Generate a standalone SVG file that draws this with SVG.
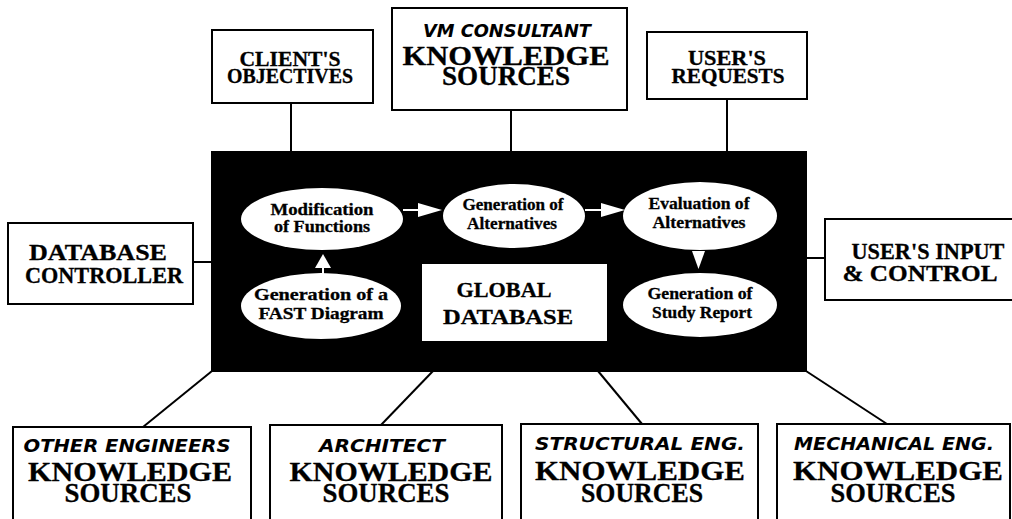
<svg xmlns="http://www.w3.org/2000/svg" width="1012" height="519" viewBox="0 0 1012 519">
  <style>
    .box { fill: #fff; stroke: #000; stroke-width: 2; }
    .link { stroke: #000; stroke-width: 2; fill: none; }
    .flow { stroke: #fff; stroke-width: 2; fill: none; }
    .head { fill: #fff; }
    .bubble { fill: #fff; stroke: none; }
    .t { font-family: "Liberation Serif", "Times New Roman", serif; font-weight: bold; fill: #000; stroke: #000; stroke-width: 0.3; text-anchor: middle; }
    .h { font-family: "DejaVu Sans", "Liberation Sans", sans-serif; font-weight: bold; font-style: italic; fill: #000; text-anchor: middle; }
    .s20 { font-size: 20px; }
    .s22 { font-size: 22px; }
    .s23 { font-size: 23px; }
    .s28 { font-size: 28px; }
    .s16 { font-size: 16px; }
    .h17 { font-size: 17px; }
  </style>
  <rect width="1012" height="519" fill="#fff"/>

  <!-- connectors from the knowledge sources to the blackboard -->
  <g id="connectors">
    <line class="link" x1="291" y1="103" x2="291" y2="152"/>
    <line class="link" x1="511" y1="110" x2="511" y2="152"/>
    <line class="link" x1="727" y1="99" x2="727" y2="152"/>
    <line class="link" x1="193" y1="262" x2="212" y2="262"/>
    <line class="link" x1="806" y1="258" x2="825" y2="258"/>
    <line class="link" x1="212" y1="371" x2="143" y2="427"/>
    <line class="link" x1="433" y1="371" x2="381" y2="425"/>
    <line class="link" x1="598" y1="371" x2="642" y2="424"/>
    <line class="link" x1="806" y1="371" x2="887" y2="424"/>
  </g>

  <!-- blackboard -->
  <g id="blackboard">
    <rect x="211" y="151" width="596" height="221" fill="#000"/>
  </g>

  <!-- process flow arrows inside the blackboard -->
  <g id="flow-arrows">
    <line class="flow" x1="403" y1="210" x2="419" y2="210"/>
    <polygon class="head" points="418,203 442,210 418,217"/>
    <line class="flow" x1="585" y1="210" x2="602" y2="210"/>
    <polygon class="head" points="601,203 625,210 601,217"/>
    <polygon class="head" points="315,268 323,254 331,268"/>
    <line class="flow" x1="323" y1="267" x2="323" y2="274"/>
    <polygon class="head" points="692,251 705,251 698.5,269"/>
  </g>

  <g id="modification">
    <ellipse class="bubble" cx="322" cy="219" rx="81" ry="31"/>
    <text class="t s16" x="322" y="215" textLength="103" lengthAdjust="spacingAndGlyphs">Modification</text>
    <text class="t s16" x="322" y="232" textLength="96" lengthAdjust="spacingAndGlyphs">of Functions</text>
  </g>

  <g id="fast-diagram">
    <ellipse class="bubble" cx="321" cy="306" rx="80" ry="33"/>
    <text class="t s16" x="321" y="300" textLength="134" lengthAdjust="spacingAndGlyphs">Generation of a</text>
    <text class="t s16" x="321" y="319" textLength="125" lengthAdjust="spacingAndGlyphs">FAST Diagram</text>
  </g>

  <g id="generation-alternatives">
    <ellipse class="bubble" cx="514" cy="216" rx="71" ry="32"/>
    <text class="t s16" x="513" y="210" textLength="101" lengthAdjust="spacingAndGlyphs">Generation of</text>
    <text class="t s16" x="512" y="229" textLength="90" lengthAdjust="spacingAndGlyphs">Alternatives</text>
  </g>

  <g id="evaluation-alternatives">
    <ellipse class="bubble" cx="700" cy="216" rx="77" ry="34"/>
    <text class="t s16" x="699" y="209" textLength="101" lengthAdjust="spacingAndGlyphs">Evaluation of</text>
    <text class="t s16" x="699" y="228" textLength="93" lengthAdjust="spacingAndGlyphs">Alternatives</text>
  </g>

  <g id="study-report">
    <ellipse class="bubble" cx="700" cy="305" rx="77" ry="32"/>
    <text class="t s16" x="700" y="299" textLength="105" lengthAdjust="spacingAndGlyphs">Generation of</text>
    <text class="t s16" x="702" y="318" textLength="100" lengthAdjust="spacingAndGlyphs">Study Report</text>
  </g>

  <g id="global-database">
    <rect x="422" y="264" width="185" height="77" fill="#fff"/>
    <text class="t s22" x="504" y="297" textLength="95" lengthAdjust="spacingAndGlyphs">GLOBAL</text>
    <text class="t s22" x="508" y="324" textLength="130" lengthAdjust="spacingAndGlyphs">DATABASE</text>
  </g>

  <g id="clients-objectives">
    <rect class="box" x="212" y="30" width="161" height="73"/>
    <text class="t s20" x="290" y="66" textLength="101" lengthAdjust="spacingAndGlyphs">CLIENT'S</text>
    <text class="t s20" x="290" y="83" textLength="126" lengthAdjust="spacingAndGlyphs">OBJECTIVES</text>
  </g>

  <g id="vm-consultant">
    <rect class="box" x="392" y="8" width="235" height="102"/>
    <text class="h h17" x="507" y="37" textLength="168" lengthAdjust="spacingAndGlyphs">VM CONSULTANT</text>
    <text class="t s28" x="506" y="65" textLength="207" lengthAdjust="spacingAndGlyphs">KNOWLEDGE</text>
    <text class="t s28" x="506" y="85" textLength="128" lengthAdjust="spacingAndGlyphs">SOURCES</text>
  </g>

  <g id="users-requests">
    <rect class="box" x="647" y="32" width="160" height="67"/>
    <text class="t s20" x="727" y="65" textLength="78" lengthAdjust="spacingAndGlyphs">USER'S</text>
    <text class="t s20" x="728" y="83" textLength="113" lengthAdjust="spacingAndGlyphs">REQUESTS</text>
  </g>

  <g id="database-controller">
    <rect class="box" x="8" y="223" width="185" height="81"/>
    <text class="t s23" x="98" y="260" textLength="138" lengthAdjust="spacingAndGlyphs">DATABASE</text>
    <text class="t s23" x="104" y="283" textLength="158" lengthAdjust="spacingAndGlyphs">CONTROLLER</text>
  </g>

  <g id="users-input">
    <rect class="box" x="825" y="219" width="200" height="81"/>
    <text class="t s23" x="928" y="259" textLength="153" lengthAdjust="spacingAndGlyphs">USER'S INPUT</text>
    <text class="t s23" x="920" y="281" textLength="155" lengthAdjust="spacingAndGlyphs">&amp; CONTROL</text>
  </g>

  <g id="other-engineers">
    <rect class="box" x="13" y="427" width="238" height="110"/>
    <text class="h h17" x="127" y="452" textLength="207" lengthAdjust="spacingAndGlyphs">OTHER ENGINEERS</text>
    <text class="t s28" x="130" y="481" textLength="204" lengthAdjust="spacingAndGlyphs">KNOWLEDGE</text>
    <text class="t s28" x="128" y="502" textLength="127" lengthAdjust="spacingAndGlyphs">SOURCES</text>
  </g>

  <g id="architect">
    <rect class="box" x="270" y="425" width="232" height="110"/>
    <text class="h h17" x="382" y="452" textLength="126" lengthAdjust="spacingAndGlyphs">ARCHITECT</text>
    <text class="t s28" x="391" y="481" textLength="203" lengthAdjust="spacingAndGlyphs">KNOWLEDGE</text>
    <text class="t s28" x="386" y="502" textLength="127" lengthAdjust="spacingAndGlyphs">SOURCES</text>
  </g>

  <g id="structural">
    <rect class="box" x="521" y="424" width="237" height="110"/>
    <text class="h h17" x="640" y="450" textLength="210" lengthAdjust="spacingAndGlyphs">STRUCTURAL ENG.</text>
    <text class="t s28" x="640" y="480" textLength="210" lengthAdjust="spacingAndGlyphs">KNOWLEDGE</text>
    <text class="t s28" x="642" y="502" textLength="122" lengthAdjust="spacingAndGlyphs">SOURCES</text>
  </g>

  <g id="mechanical">
    <rect class="box" x="777" y="424" width="233" height="110"/>
    <text class="h h17" x="894" y="450" textLength="200" lengthAdjust="spacingAndGlyphs">MECHANICAL ENG.</text>
    <text class="t s28" x="898" y="480" textLength="210" lengthAdjust="spacingAndGlyphs">KNOWLEDGE</text>
    <text class="t s28" x="893" y="502" textLength="125" lengthAdjust="spacingAndGlyphs">SOURCES</text>
  </g>
</svg>
